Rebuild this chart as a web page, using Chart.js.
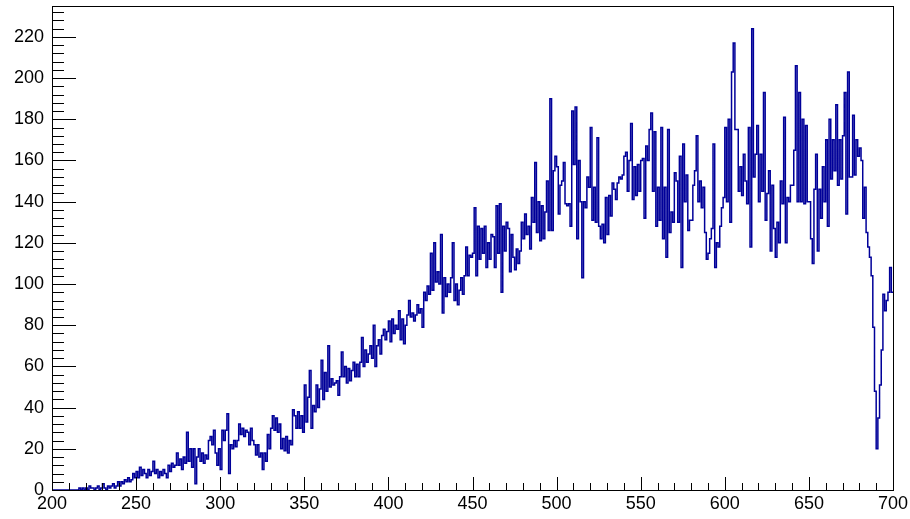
<!DOCTYPE html>
<html>

<head>
  <script src="https://cdn.jsdelivr.net/npm/chart.js@4/dist/chart.umd.min.js"></script>
  <style>
    body { margin: 0; background: #fff; }
  </style>
</head>

<body>
  <canvas id="histo" width="910" height="519"></canvas>
  <script type="text/javascript">
    // histogram binning: 500 bins from 200 to 700
    var xMin = 200;
    var xMax = 700;
    var binWidth = 1;

    // bin contents, 20 bins per line
    var counts = [
      0, 0, 0, 0, 0, 0, 0, 0, 0, 0, 0, 0, 0, 0, 0, 0, 1, 0, 1, 0,
      1, 0, 2, 1, 1, 0, 1, 2, 0, 1, 3, 1, 0, 2, 1, 2, 3, 1, 2, 4,
      2, 4, 3, 5, 4, 6, 4, 5, 8, 6, 9, 6, 11, 7, 10, 8, 6, 10, 7, 9,
      14, 8, 10, 6, 9, 7, 10, 8, 6, 12, 9, 13, 11, 12, 18, 12, 15, 10, 16, 13,
      28, 14, 20, 11, 20, 3, 16, 20, 14, 18, 13, 17, 15, 24, 26, 22, 29, 18, 12, 20,
      10, 29, 24, 29, 37, 8, 22, 20, 24, 21, 24, 32, 27, 30, 26, 29, 28, 22, 30, 24,
      22, 17, 22, 16, 18, 10, 18, 14, 27, 20, 30, 36, 29, 35, 28, 32, 20, 25, 19, 26,
      18, 24, 22, 39, 36, 30, 38, 30, 36, 28, 51, 33, 45, 58, 30, 41, 38, 51, 40, 49,
      63, 44, 57, 48, 70, 50, 54, 51, 52, 53, 46, 55, 67, 55, 60, 52, 59, 53, 58, 62,
      55, 61, 55, 62, 74, 60, 68, 62, 66, 70, 64, 80, 60, 70, 73, 66, 75, 78, 73, 77,
      82, 72, 83, 76, 80, 78, 87, 73, 83, 71, 80, 85, 92, 84, 86, 82, 85, 90, 86, 88,
      79, 96, 92, 99, 95, 115, 97, 120, 101, 106, 100, 124, 86, 103, 94, 100, 96, 103, 120, 92,
      100, 90, 97, 103, 95, 104, 118, 104, 114, 113, 115, 137, 104, 128, 112, 127, 115, 128, 108, 120,
      112, 124, 123, 108, 138, 115, 139, 96, 128, 116, 130, 127, 106, 124, 113, 107, 117, 110, 116, 130,
      122, 134, 124, 128, 117, 142, 130, 159, 125, 140, 121, 138, 122, 135, 150, 126, 190, 126, 155, 162,
      157, 134, 148, 150, 159, 139, 138, 139, 128, 184, 158, 186, 122, 160, 140, 103, 140, 137, 152, 147,
      176, 131, 147, 130, 171, 128, 122, 129, 120, 142, 124, 143, 133, 149, 146, 141, 149, 152, 151, 153,
      162, 164, 145, 160, 178, 141, 157, 143, 158, 145, 160, 161, 132, 167, 160, 175, 183, 145, 174, 128,
      147, 131, 176, 122, 147, 113, 175, 125, 135, 130, 154, 150, 130, 162, 108, 168, 140, 153, 126, 131,
      131, 148, 155, 172, 140, 150, 137, 147, 125, 112, 115, 122, 127, 168, 108, 120, 118, 128, 137, 142,
      176, 140, 180, 130, 203, 217, 175, 175, 145, 157, 143, 163, 150, 139, 176, 118, 224, 152, 163, 177,
      140, 163, 145, 193, 131, 144, 155, 116, 148, 127, 113, 130, 120, 150, 139, 181, 120, 142, 140, 148,
      148, 165, 206, 140, 193, 140, 180, 139, 177, 140, 140, 122, 110, 146, 163, 116, 146, 132, 157, 140,
      170, 128, 180, 151, 170, 155, 187, 148, 170, 151, 172, 193, 134, 203, 152, 152, 182, 153, 170, 162,
      166, 160, 132, 147, 125, 118, 113, 104, 79, 48, 20, 35, 51, 68, 95, 87, 92, 96, 108, 96
    ];

    // axis ticks
    var xTickStep = 50;
    var xMinorStep = 10;
    var yMax = 235;
    var yTickStep = 20;
    var yMinorStep = 4;

    // left bin edges + closing point at xMax
    var points = counts.map(function(c, i) {
      return { x: xMin + i * binWidth, y: c };
    });
    points.push({ x: xMax, y: counts[counts.length - 1] });

    // ROOT style frame with ticks pointing inside
    var rootFrame = {
      id: 'rootFrame',
      afterDraw: function(chart) {
        var ctx = chart.ctx;
        var a = chart.chartArea;
        var xs = chart.scales.x;
        var ys = chart.scales.y;
        ctx.save();
        ctx.strokeStyle = '#000';
        ctx.lineWidth = 1;
        ctx.beginPath();
        for (var v = 0; v < yMax; v += yMinorStep) {
          var py = Math.round(ys.getPixelForValue(v)) + 0.5;
          var len = (v % yTickStep === 0) ? 24 : 12;
          ctx.moveTo(a.left, py);
          ctx.lineTo(a.left + len, py);
        }
        for (var u = xMin; u <= xMax; u += xMinorStep) {
          var px = Math.round(xs.getPixelForValue(u)) + 0.5;
          var hl = (u % xTickStep === 0) ? 13 : 7;
          ctx.moveTo(px, a.bottom);
          ctx.lineTo(px, a.bottom - hl);
        }
        ctx.stroke();
        ctx.strokeRect(Math.round(a.left) + 0.5, Math.round(a.top) + 0.5,
          Math.round(a.right - a.left), Math.round(a.bottom - a.top));
        ctx.restore();
      }
    };

    var ctx = document.getElementById('histo').getContext('2d');
    var chart = new Chart(ctx, {
      type: 'line',
      data: {
        datasets: [{
          data: points,
          stepped: true,
          borderColor: '#000099',
          borderWidth: 1.5,
          pointRadius: 0,
          fill: false
        }]
      },
      options: {
        responsive: false,
        animation: false,
        devicePixelRatio: 1,
        layout: { padding: { top: 6, right: 17, left: 0, bottom: 0 } },
        plugins: {
          legend: { display: false },
          tooltip: { enabled: false }
        },
        scales: {
          x: {
            type: 'linear',
            min: xMin,
            max: xMax,
            grid: { display: false, drawTicks: false },
            border: { display: false },
            ticks: {
              stepSize: xTickStep,
              maxRotation: 0,
              padding: 3,
              color: '#000',
              font: { family: 'Liberation Sans', size: 18 }
            },
            afterFit: function(scale) {
              scale.height = 29;
              scale.paddingLeft = 0;
              scale.paddingRight = 0;
            }
          },
          y: {
            min: 0,
            max: yMax,
            grid: { display: false, drawTicks: false },
            border: { display: false },
            ticks: {
              stepSize: yTickStep,
              includeBounds: false,
              padding: 8,
              color: '#000',
              font: { family: 'Liberation Sans', size: 18 }
            },
            afterFit: function(scale) {
              scale.width = 52;
              scale.paddingTop = 0;
              scale.paddingBottom = 0;
            }
          }
        }
      },
      plugins: [rootFrame]
    });
  </script>
</body>

</html>
